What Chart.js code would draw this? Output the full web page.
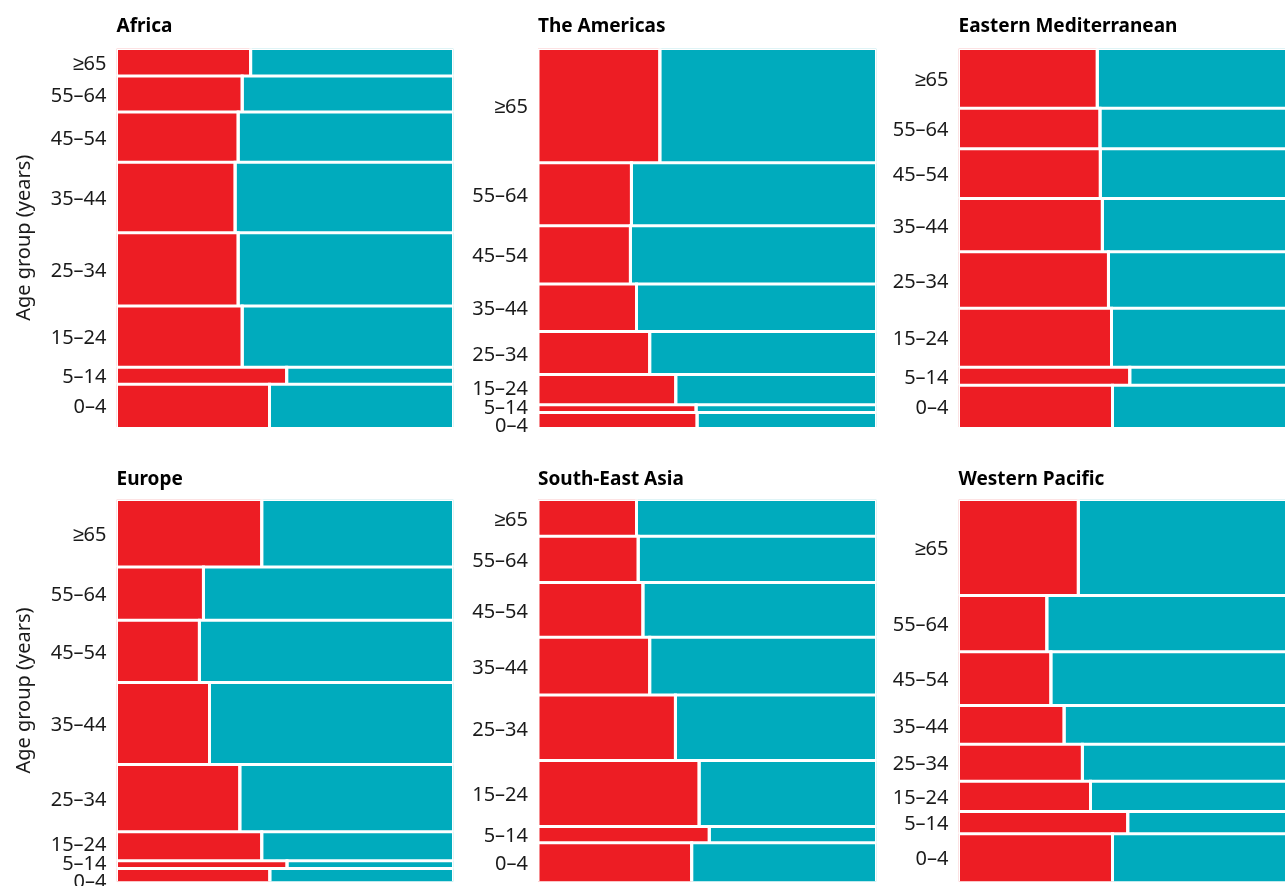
<!DOCTYPE html>
<html>
<head>
<meta charset="utf-8">
<script src="https://cdn.jsdelivr.net/npm/chart.js@4.4.0/dist/chart.umd.min.js"></script>
<style>
    html, body { margin: 0; padding: 0; background: #fff; width: 1285px; height: 886px; overflow: hidden; }
    .panel { position: absolute; }
</style>
</head>
<body>
<div class="panel" style="left:0px;top:0px;width:460px;height:440px"><canvas id="africaCanvas"></canvas></div>
<div class="panel" style="left:460px;top:0px;width:420px;height:440px"><canvas id="americasCanvas"></canvas></div>
<div class="panel" style="left:880px;top:0px;width:417px;height:440px"><canvas id="emedCanvas"></canvas></div>
<div class="panel" style="left:0px;top:450px;width:460px;height:450px"><canvas id="europeCanvas"></canvas></div>
<div class="panel" style="left:460px;top:450px;width:420px;height:450px"><canvas id="seasiaCanvas"></canvas></div>
<div class="panel" style="left:880px;top:450px;width:417px;height:450px"><canvas id="wpacCanvas"></canvas></div>
<script>
const ageGroups = ['≥65', '55–64', '45–54', '35–44', '25–34', '15–24', '5–14', '0–4'];
const regions = ['Africa', 'The Americas', 'Eastern Mediterranean', 'Europe', 'South-East Asia', 'Western Pacific'];

// share of each age group in the region total (%), oldest first
const africaRows = [7.3, 9.5, 13.3, 18.6, 19.4, 16.2, 4.5, 11.3];
const americasRows = [30.2, 16.6, 15.4, 12.6, 11.3, 8.0, 2.1, 3.8];
const emedRows = [15.8, 10.7, 13.1, 14.1, 14.9, 15.6, 4.8, 11.0];
const europeRows = [17.7, 13.9, 16.3, 21.5, 17.6, 7.6, 2.0, 3.4];
const seasiaRows = [9.6, 12.1, 14.3, 15.1, 17.1, 17.2, 4.3, 10.1];
const wpacRows = [25.1, 14.7, 14.1, 10.1, 9.7, 7.9, 5.8, 12.5];

// red part of each age group (%), rest is teal
const africaRed = [39.8, 37.3, 36.1, 35.2, 36.1, 37.3, 50.5, 45.4];
const americasRed = [36.0, 27.6, 27.3, 29.1, 33.0, 40.7, 46.7, 47.0];
const emedRed = [41.0, 41.8, 41.9, 42.5, 44.3, 45.2, 50.6, 45.5];
const europeRed = [43.1, 25.8, 24.6, 27.6, 36.6, 43.1, 50.6, 45.5];
const seasiaRed = [29.1, 29.6, 31.0, 33.0, 40.6, 47.6, 50.6, 45.4];
const wpacRed = [35.4, 26.1, 27.3, 31.2, 36.6, 39.0, 50.0, 45.5];

const RED = 'rgb(237, 29, 36)';
const TEAL = 'rgb(0, 171, 189)';
const TEXT = '#1a1a1a';
const FONT = "'Noto Sans', sans-serif";

function sum(arr) {
    return arr.reduce((a, b) => a + b, 0);
}

// one filled box per cell, white border makes the gaps
function cell(x0, x1, y0, y1, color) {
    return {
        data: [{x: x0, y: y1}, {x: x0, y: y0}, {x: x1, y: y0}, {x: x1, y: y1}],
        fill: 'shape',
        backgroundColor: color,
        borderColor: '#fff',
        borderWidth: 3,
        borderJoinStyle: 'miter',
        pointRadius: 0,
        tension: 0
    };
}

function buildDatasets(rows, red) {
    let sets = [];
    let start = 0;
    for (let i = 0; i < rows.length; i++) {
        let f = red[i] / 100;
        sets.push(cell(0, f, start, start + rows[i], RED));
        sets.push(cell(f, 1, start, start + rows[i], TEAL));
        start += rows[i];
    }
    return sets;
}

// row centres, pushed apart where rows are too thin for their labels
function labelPositions(rows) {
    let pos = [];
    let start = 0;
    for (let h of rows) {
        pos.push(start + h / 2);
        start += h;
    }
    let gap = sum(rows) * 18.5 / 380;
    for (let k = 0; k < 60; k++) {
        for (let i = 0; i < pos.length - 1; i++) {
            let d = pos[i + 1] - pos[i];
            if (d < gap) {
                let m = (gap - d) / 2;
                pos[i] -= m;
                pos[i + 1] += m;
            }
        }
    }
    return pos;
}

function drawPanel(canvasId, title, rows, red, layout) {
    let total = sum(rows);
    let ticksAt = labelPositions(rows);
    let ctx = document.getElementById(canvasId).getContext('2d');
    return new Chart(ctx, {
        type: 'line',
        data: { datasets: buildDatasets(rows, red) },
        options: {
            responsive: true,
            maintainAspectRatio: false,
            animation: false,
            events: [],
            layout: { padding: { top: 0, right: layout.right, bottom: layout.bottom, left: 0 } },
            plugins: {
                legend: { display: false },
                tooltip: { enabled: false },
                filler: { drawTime: 'beforeDatasetsDraw' },
                title: {
                    display: true,
                    text: title,
                    align: 'start',
                    fullSize: false,
                    color: '#000',
                    font: { family: FONT, size: 19, weight: 'bold' },
                    padding: { top: layout.titleTop, bottom: layout.titleBottom }
                }
            },
            scales: {
                x: { type: 'linear', min: 0, max: 1, display: false },
                y: {
                    type: 'linear',
                    min: 0,
                    max: total,
                    reverse: true,
                    grid: { display: false, drawTicks: false },
                    border: { display: false },
                    afterBuildTicks: function (scale) {
                        scale.ticks = ticksAt.map(v => ({ value: v }));
                    },
                    afterFit: function (scale) {
                        // fixed axis width so the panels line up; labels may run past the ends
                        scale.width = layout.axisWidth;
                        scale.paddingTop = 0;
                        scale.paddingBottom = 0;
                    },
                    ticks: {
                        autoSkip: false,
                        padding: 10,
                        labelOffset: 2,
                        color: TEXT,
                        font: { family: FONT, size: 20 },
                        callback: function (value, index) { return ageGroups[index]; }
                    },
                    title: {
                        display: layout.axisTitle,
                        text: 'Age group (years)',
                        color: TEXT,
                        font: { family: FONT, size: 20 },
                        padding: { top: 12, bottom: 0 }
                    }
                }
            }
        }
    });
}

const topRow = { titleTop: 15, titleBottom: 10.7, bottom: 13 };
const bottomRow = { titleTop: 18, titleBottom: 8.7, bottom: 18.5 };
const col1 = { axisWidth: 116.5, right: 6.5, axisTitle: true };
const col2 = { axisWidth: 78, right: 3.5, axisTitle: false };
const col3 = { axisWidth: 78.5, right: 0, axisTitle: false };

drawPanel('africaCanvas', regions[0], africaRows, africaRed, Object.assign({}, topRow, col1));
drawPanel('americasCanvas', regions[1], americasRows, americasRed, Object.assign({}, topRow, col2));
drawPanel('emedCanvas', regions[2], emedRows, emedRed, Object.assign({}, topRow, col3));
drawPanel('europeCanvas', regions[3], europeRows, europeRed, Object.assign({}, bottomRow, col1));
drawPanel('seasiaCanvas', regions[4], seasiaRows, seasiaRed, Object.assign({}, bottomRow, col2));
drawPanel('wpacCanvas', regions[5], wpacRows, wpacRed, Object.assign({}, bottomRow, col3));
</script>
</body>
</html>
